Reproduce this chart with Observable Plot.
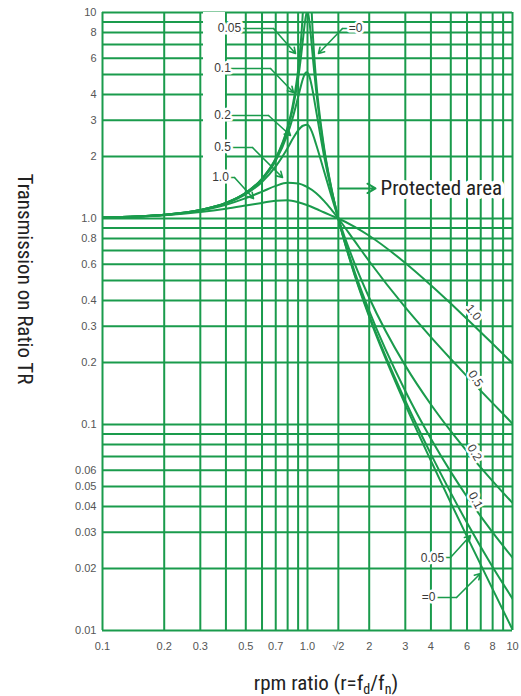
<!DOCTYPE html>
<html><head><meta charset="utf-8">
<script src="https://cdn.jsdelivr.net/npm/d3@7"></script>
<script src="https://cdn.jsdelivr.net/npm/@observablehq/plot@0.6"></script>
<style>
body{margin:0;background:#fff;}
</style>
</head><body><div id="chart"></div>
<script>
// ---------- grid & ticks ----------
const xGrid = [0.1,0.2,0.3,0.4,0.5,0.6,0.7,0.8,0.9,1,1.41421,2,3,4,5,6,7,8,9,10];
const yGrid = [0.01,0.02,0.03,0.04,0.05,0.06,0.07,0.08,0.09,0.1,0.2,0.3,0.4,0.5,0.6,0.7,0.8,0.9,1,2,3,4,5,6,7,8,9,10];
const xTickValues = [0.1,0.2,0.3,0.5,0.7,1,1.41421,2,3,4,6,8,10];
const xTickLabels = ["0.1","0.2","0.3","0.5","0.7","1.0","\u221A2","2","3","4","6","8","10"];
const yTickValues = [10,8,6,4,3,2,1,0.8,0.6,0.4,0.3,0.2,0.1,0.06,0.05,0.04,0.03,0.02,0.01];
const yTickLabels = ["10","8","6","4","3","2","1.0","0.8","0.6","0.4","0.3","0.2","0.1","0.06","0.05","0.04","0.03","0.02","0.01"];

// ---------- curves (damping ratio series) ----------
const rZero1 = [0.1,0.2,0.3,0.4,0.5,0.6,0.7,0.8,0.85,0.9,0.93,0.95,0.97];
const trZero1 = [1.010,1.042,1.099,1.190,1.333,1.563,1.961,2.778,3.604,5.263,7.402,10.26,16.92];
const rZero2 = [1.03,1.05,1.07,1.1,1.2,1.3,1.414,1.7,2,3,4,5,6,8,10];
const trZero2 = [16.42,9.756,6.901,4.762,2.273,1.449,1.0,0.529,0.3333,0.125,0.0667,0.04167,0.02857,0.01587,0.0101];

const rFine = [0.1,0.2,0.3,0.4,0.5,0.6,0.7,0.8,0.85,0.9,0.93,0.95,0.97,0.98,0.99,1.0,1.01,1.02,1.03,1.05,1.07,1.1,1.2,1.3,1.414,1.7,2,3,4,5,6,8,10];
const tr005 = [1.010,1.042,1.099,1.190,1.332,1.559,1.947,2.720,3.458,4.776,6.123,7.379,8.845,9.506,9.951,10.05,9.760,9.162,8.401,6.852,5.583,4.244,2.208,1.436,1.0,0.5345,0.3392,0.1304,0.07178,0.04658,0.03332,0.02033,0.01428];
const tr01 = [1.010,1.042,1.099,1.189,1.328,1.547,1.909,2.571,3.117,3.882,4.425,4.766,5.023,5.096,5.123,5.099,5.026,4.908,4.753,4.373,3.957,3.367,2.052,1.401,1.0,0.5500,0.3559,0.1454,0.08525,0.05887,0.04460,0.02994,0.02258];

const rMid = [0.1,0.2,0.3,0.4,0.5,0.6,0.7,0.8,0.85,0.9,0.95,1.0,1.05,1.1,1.2,1.3,1.414,1.7,2,3,4,5,6,8,10];
const tr02 = [1.010,1.041,1.097,1.184,1.314,1.505,1.790,2.200,2.450,2.680,2.820,2.850,2.640,2.300,1.720,1.310,1.0,0.6021,0.4125,0.1931,0.1251,0.09285,0.07411,0.05315,0.04161];

const rWide = [0.1,0.2,0.3,0.4,0.5,0.6,0.7,0.8,0.9,1.0,1.1,1.2,1.3,1.414,1.7,2,3,4,5,6,8,10];
const tr05 = [1.010,1.040,1.092,1.165,1.255,1.350,1.440,1.490,1.480,1.420,1.330,1.222,1.114,1.0,0.7759,0.6202,0.3701,0.2656,0.2080,0.1713,0.1270,0.1010];
const tr10 = [1.010,1.037,1.075,1.115,1.155,1.190,1.220,1.225,1.200,1.160,1.115,1.072,1.036,1.0,0.9111,0.8246,0.6083,0.4743,0.3865,0.3255,0.2466,0.1983];

// ---------- annotations (data coordinates) ----------
const leftLabels = [["0.05",0.4164,8.362],["0.1",0.3848,5.348],["0.2",0.3848,3.162],["0.5",0.3848,2.211],["1.0",0.3763,1.581]];
// [startR, elbowR, lineTR, tipR, tipTR]
const leftLeaders = [[0.4355,0.6827,8.362,0.874,6.324],[0.4072,0.6600,5.348,0.8545,4.090],[0.4072,0.6453,3.162,0.8263,2.529],[0.4072,0.5391,2.211,0.7552,1.581],[0.3981,0.4404,1.581,0.5452,1.250]];
const topZeroLabel = ["=0",1.7147,8.362];
const topZeroLeader = [1.658,1.4815,8.362,1.1313,6.324];
const bottomLabels = [["0.05",4.0719,0.02236],["=0",3.8929,0.01446]];
const bottomLeaders = [[4.2582,4.9843,0.02262,6.2404,0.02892],[4.1177,5.3322,0.01446,6.9802,0.01891]];
const rotLabels = [["1.0",6.45,0.350,50],["0.5",6.60,0.167,56],["0.2",6.52,0.0731,60],["0.1",6.60,0.0428,62]];
const protectedLabel = ["Protected area",2.2705,1.40];
const protectedArrow = [1.4166,2.147,1.40];
const labelColumn = [0.311,0.398,1.37,10];

const green = "#1a9b4c";
const txt = "#3a3a3a";

const curves = [];
rZero1.forEach((r,i)=>curves.push({r,tr:trZero1[i],z:"0a"}));
rZero2.forEach((r,i)=>curves.push({r,tr:trZero2[i],z:"0b"}));
rFine.forEach((r,i)=>curves.push({r,tr:tr005[i],z:"0.05"}));
rFine.forEach((r,i)=>curves.push({r,tr:tr01[i],z:"0.1"}));
rMid.forEach((r,i)=>curves.push({r,tr:tr02[i],z:"0.2"}));
rWide.forEach((r,i)=>curves.push({r,tr:tr05[i],z:"0.5"}));
rWide.forEach((r,i)=>curves.push({r,tr:tr10[i],z:"1.0"}));

const leaderSegs = [];
const leaderArrows = [];
[...leftLeaders, topZeroLeader, ...bottomLeaders].forEach((l,i)=>{
  leaderSegs.push({x:l[0],y:l[2],id:i},{x:l[1],y:l[2],id:i});
  leaderArrows.push({x1:l[1],y1:l[2],x2:l[3],y2:l[4]});
});
const textRows = [
  ...leftLabels.map(d=>({t:d[0],x:d[1],y:d[2],a:"end"})),
  {t:topZeroLabel[0],x:topZeroLabel[1],y:topZeroLabel[2],a:"start"},
  ...bottomLabels.map(d=>({t:d[0],x:d[1],y:d[2],a:"end"}))
];
const xTicks = xTickValues.map((v,i)=>({v, label: xTickLabels[i]}));
const yTicks = yTickValues.map((v,i)=>({v, label: yTickLabels[i]}));

const plot = Plot.plot({
  width: 521, height: 696,
  marginLeft: 102, marginRight: 9, marginTop: 12, marginBottom: 66,
  x: {type: "log", domain: [0.1, 10]},
  y: {type: "log", domain: [0.01, 10]},
  style: {fontFamily: "'Liberation Sans', Arial, sans-serif", fontSize: "11px", background: "white", overflow: "visible"},
  marks: [
    Plot.ruleX(xGrid, {stroke: green, strokeWidth: 2}),
    Plot.ruleY(yGrid, {stroke: green, strokeWidth: 2}),
    Plot.rect([labelColumn], {x1: d=>d[0], x2: d=>d[1], y1: d=>d[2], y2: d=>d[3], fill: "white"}),
    Plot.line(curves, {x: "r", y: "tr", z: "z", stroke: green, strokeWidth: 2, curve: "monotone-x", clip: true}),
    Plot.line(leaderSegs, {x: "x", y: "y", z: "id", stroke: green, strokeWidth: 1.6}),
    Plot.arrow(leaderArrows, {x1: "x1", y1: "y1", x2: "x2", y2: "y2", stroke: green, strokeWidth: 1.6, headLength: 6}),
    Plot.arrow([protectedArrow], {x1: d=>d[0], x2: d=>d[1], y1: d=>d[2], y2: d=>d[2], stroke: green, strokeWidth: 2, headLength: 7}),
    Plot.text(textRows, {x: "x", y: "y", text: "t", textAnchor: d=>d.a, fill: txt, fontSize: 12, stroke: "white", strokeWidth: 5, paintOrder: "stroke"}),
    Plot.text(rotLabels, {x: d=>d[1], y: d=>d[2], text: d=>d[0], rotate: d=>d[3], fill: txt, fontSize: 12, stroke: "white", strokeWidth: 5}),
    Plot.text([protectedLabel], {x: d=>d[1], y: d=>d[2], text: d=>d[0], textAnchor: "start", fill: "#222", fontSize: 21, fontFamily: "'Liberation Sans Narrow', 'Roboto Condensed', 'DejaVu Sans Condensed', Roboto, sans-serif", stroke: "white", strokeWidth: 8}),
    Plot.axisX(xTicks, {x: "v", text: "label", tickSize: 0, tickPadding: 12, fill: "#555", fontSize: 11, label: null}),
    Plot.axisY(yTicks, {y: "v", text: "label", tickSize: 0, tickPadding: 6, fill: "#555", fontSize: 11, label: null})
  ]
});
document.getElementById("chart").appendChild(plot);

const svg = d3.select(plot);
const titleFont = "'Liberation Sans Narrow', 'Roboto Condensed', 'DejaVu Sans Condensed', Roboto, sans-serif";
svg.append("text")
  .attr("transform", "translate(25,279) rotate(90)")
  .attr("text-anchor", "middle").attr("dominant-baseline", "central")
  .attr("font-family", titleFont).attr("font-size", 21).attr("fill", "#222")
  .text("Transmission on Ratio TR");
const xt = svg.append("text")
  .attr("x", 326).attr("y", 690).attr("text-anchor", "middle")
  .attr("font-family", titleFont).attr("font-size", 21).attr("fill", "#222");
xt.append("tspan").text("rpm ratio (r=f");
xt.append("tspan").attr("font-size", 14).attr("dy", 4).text("d");
xt.append("tspan").attr("dy", -4).text("/f");
xt.append("tspan").attr("font-size", 14).attr("dy", 4).text("n");
xt.append("tspan").attr("dy", -4).text(")");
</script>
</body></html>
